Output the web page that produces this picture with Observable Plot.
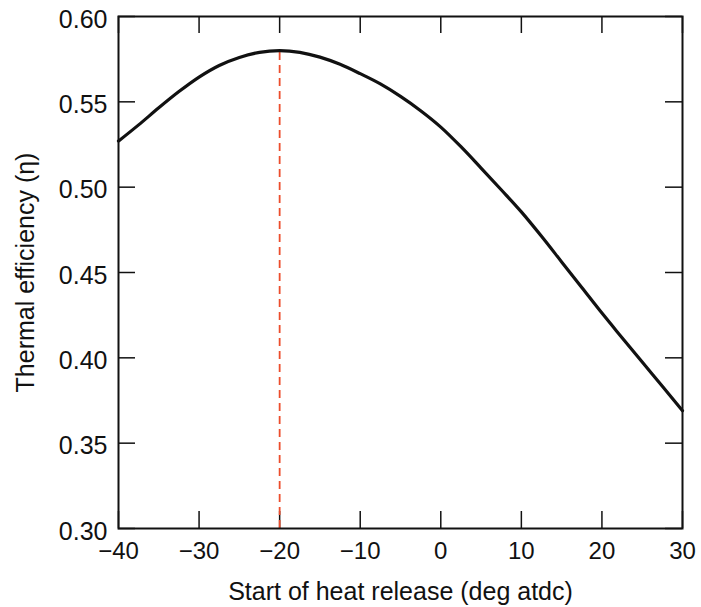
<!DOCTYPE html>
<html>
<head>
<meta charset="utf-8">
<script src="https://cdn.jsdelivr.net/npm/d3@7"></script>
<script src="https://cdn.jsdelivr.net/npm/@observablehq/plot@0.6"></script>
<style>
  html, body { margin: 0; padding: 0; background: #fff; }
</style>
</head>
<body>
<div id="chart"></div>
<script>
// Start of heat release (deg atdc)
const startAngle = [-40, -37.5, -35, -32.5, -30, -27.5, -25, -22.5, -20, -17.5, -15, -12.5, -10, -7.5, -5, -2.5, 0, 2.5, 5, 7.5, 10, 12.5, 15, 17.5, 20, 22.5, 25, 27.5, 30];
// Thermal efficiency
const efficiency = [0.527, 0.5365, 0.5465, 0.5560, 0.5645, 0.5713, 0.5760, 0.5790, 0.5800, 0.5790, 0.5762, 0.5720, 0.5665, 0.5605, 0.5532, 0.5448, 0.5352, 0.5237, 0.5112, 0.4985, 0.4855, 0.4712, 0.4562, 0.4412, 0.4262, 0.4118, 0.3975, 0.3833, 0.3690];

const xTicks = [-40, -30, -20, -10, 0, 10, 20, 30];
const yTicks = [0.30, 0.35, 0.40, 0.45, 0.50, 0.55, 0.60];
const xLabel = "Start of heat release (deg atdc)";
const yLabel = "Thermal efficiency (\u03B7)";

const data = startAngle.map((x, i) => ({x, y: efficiency[i]}));
const peak = data.reduce((a, b) => (b.y > a.y ? b : a));

const W = 701, H = 607;
const mL = 118, mR = 19, mT = 16, mB = 79;
const plotH = H - mT - mB;
const plotW = W - mL - mR;
const tickLen = 17;

const chart = Plot.plot({
  width: W,
  height: H,
  marginLeft: mL,
  marginRight: mR,
  marginTop: mT,
  marginBottom: mB,
  style: {fontFamily: "'Liberation Sans', Arial, Helvetica, sans-serif", fontSize: "25px", background: "#fff", color: "#111"},
  x: {domain: [-40, 30]},
  y: {domain: [0.30, 0.60]},
  marks: [
    // inward ticks, all four sides
    Plot.tickX(xTicks, {x: d => d, insetTop: plotH - tickLen, stroke: "#111", strokeWidth: 1.5}),
    Plot.tickX(xTicks, {x: d => d, insetBottom: plotH - tickLen, stroke: "#111", strokeWidth: 1.5}),
    Plot.tickY(yTicks, {y: d => d, insetRight: plotW - tickLen, stroke: "#111", strokeWidth: 1.5}),
    Plot.tickY(yTicks, {y: d => d, insetLeft: plotW - tickLen, stroke: "#111", strokeWidth: 1.5}),
    // tick labels
    Plot.axisX({ticks: xTicks, tickSize: 0, tickPadding: 13, label: null, fontSize: 24, fill: "#111"}),
    Plot.axisY({ticks: yTicks, tickSize: 0, tickPadding: 11, tickFormat: d3.format(".2f"), label: null, fontSize: 25, dy: 3, fill: "#111"}),
    // axis titles
    Plot.text([xLabel], {frameAnchor: "bottom", textAnchor: "middle", lineAnchor: "middle", dy: 63, fontSize: 25, fill: "#111"}),
    Plot.text([yLabel], {frameAnchor: "left", textAnchor: "middle", lineAnchor: "middle", dx: -93, rotate: -90, fontSize: 25, fill: "#111"}),
    // optimum marker
    Plot.ruleX([peak], {x: "x", y1: 0.30, y2: "y", stroke: "#ec4d2c", strokeWidth: 1.8, strokeDasharray: "8,5"}),
    // curve
    Plot.line(data, {x: "x", y: "y", curve: "monotone-x", stroke: "#111", strokeWidth: 3.2}),
    Plot.frame({stroke: "#111", strokeWidth: 2})
  ]
});

document.getElementById("chart").appendChild(chart);
</script>
</body>
</html>
